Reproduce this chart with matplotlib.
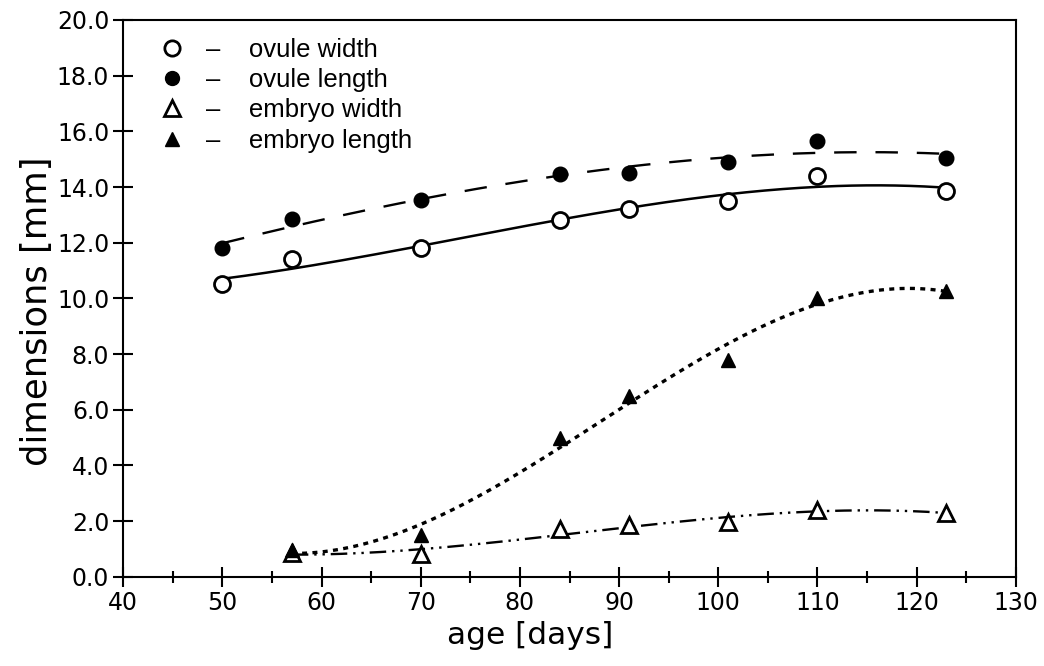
import numpy as np
import matplotlib
matplotlib.use('Agg')
import matplotlib.pyplot as plt
from matplotlib.lines import Line2D
from matplotlib.ticker import MultipleLocator, FormatStrFormatter

age_ovule = [50, 57, 70, 84, 91, 101, 110, 123]
ovule_width = [10.5, 11.4, 11.8, 12.8, 13.2, 13.5, 14.4, 13.85]
ovule_length = [11.8, 12.85, 13.55, 14.45, 14.5, 14.9, 15.65, 15.05]

age_embryo = [57, 70, 84, 91, 101, 110, 123]
embryo_width = [0.85, 0.8, 1.7, 1.85, 1.95, 2.4, 2.3]
embryo_length = [0.95, 1.5, 5.0, 6.5, 7.8, 10.0, 10.25]

labels = ['ovule width', 'ovule length', 'embryo width', 'embryo length']

plt.rcParams['font.family'] = ['DejaVu Sans']

fig = plt.figure(figsize=(10.44, 6.66), dpi=100)
ax = fig.add_axes([0.118, 0.134, 0.855, 0.836])


def fit_curve(x, y, deg=3):
    coef = np.polyfit(x, y, deg)
    xs = np.linspace(min(x), max(x), 200)
    return xs, np.polyval(coef, xs)


# fitted curves
xs, ys = fit_curve(age_ovule, ovule_width)
ax.plot(xs, ys, color='black', lw=1.8, ls='-')
xs, ys = fit_curve(age_ovule, ovule_length)
ax.plot(xs, ys, color='black', lw=1.7, dashes=(9.5, 8))
xs, ys = fit_curve(age_embryo, embryo_length)
ax.plot(xs, ys, color='black', lw=2.4, dashes=(1.5, 1.6))
xs, ys = fit_curve(age_embryo, embryo_width)
ax.plot(xs, ys, color='black', lw=1.7, dashes=(7, 2.5, 1, 2.5, 1, 2.5))

# points
ax.plot(age_ovule, ovule_width, 'o', ms=11.5, mfc='white', mec='black', mew=2.0, ls='none')
ax.plot(age_ovule, ovule_length, 'o', ms=10.5, mfc='black', mec='black', ls='none')
ax.plot(age_embryo, embryo_width, '^', ms=11, mfc='white', mec='black', mew=2.0, ls='none')
ax.plot(age_embryo, embryo_length, '^', ms=10.5, mfc='black', mec='black', ls='none')

ax.set_xlim(40, 130)
ax.set_ylim(0, 20)
ax.xaxis.set_major_locator(MultipleLocator(10))
ax.xaxis.set_minor_locator(MultipleLocator(5))
ax.yaxis.set_major_locator(MultipleLocator(2))
ax.yaxis.set_major_formatter(FormatStrFormatter('%.1f'))
ax.tick_params(which='major', direction='inout', length=14, width=1.5, labelsize=17, pad=3)
ax.tick_params(which='minor', direction='inout', length=9, width=1.5)
for s in ax.spines.values():
    s.set_linewidth(1.5)

ax.set_xlabel('age [days]', fontsize=22.5)
ax.set_ylabel('dimensions [mm]', fontsize=25.5)
ax.xaxis.set_label_coords(0.456, -0.08)
ax.yaxis.set_label_coords(-0.078, 0.476)

handles = [
    Line2D([], [], marker='o', ms=11, mfc='white', mec='black', mew=2.0, ls='none'),
    Line2D([], [], marker='o', ms=10, mfc='black', mec='black', ls='none'),
    Line2D([], [], marker='^', ms=11, mfc='white', mec='black', mew=2.0, ls='none'),
    Line2D([], [], marker='^', ms=10, mfc='black', mec='black', ls='none'),
]
ax.legend(handles, ['\u2013    ' + l for l in labels], loc='upper left',
          frameon=False, handlelength=1.0, handletextpad=0.8,
          labelspacing=0.24, borderaxespad=0.0, borderpad=0.4,
          bbox_to_anchor=(0.029, 0.986),
          prop={'family': ['Liberation Sans'], 'size': 18.5})

fig.savefig('out.png', dpi=100, facecolor='white')
